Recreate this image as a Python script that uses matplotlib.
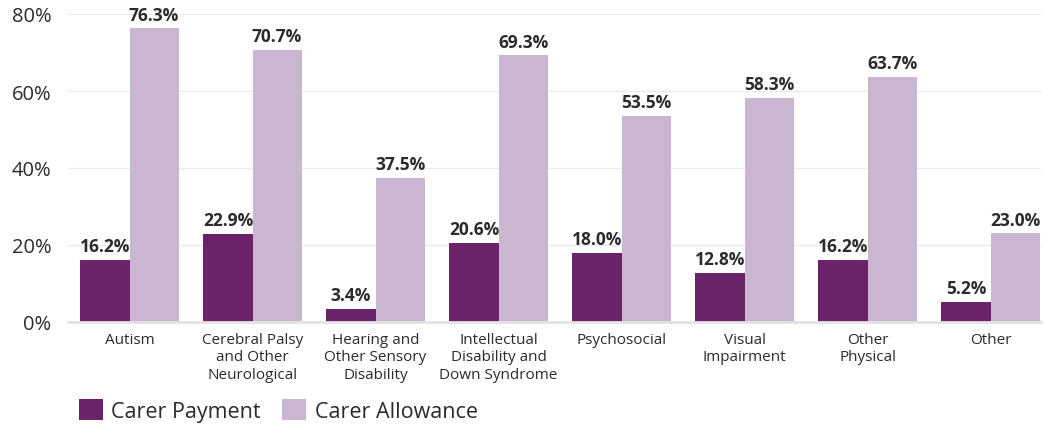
import matplotlib
matplotlib.use("Agg")
import matplotlib.pyplot as plt
import numpy as np

categories = [
    "Autism",
    "Cerebral Palsy\nand Other\nNeurological",
    "Hearing and\nOther Sensory\nDisability",
    "Intellectual\nDisability and\nDown Syndrome",
    "Psychosocial",
    "Visual\nImpairment",
    "Other\nPhysical",
    "Other",
]
carer_payment = [16.2, 22.9, 3.4, 20.6, 18.0, 12.8, 16.2, 5.2]
carer_allowance = [76.3, 70.7, 37.5, 69.3, 53.5, 58.3, 63.7, 23.0]
y_ticks = [0, 20, 40, 60, 80]

dark = "#6a2369"
light = "#cbb6d1"
text_col = "#2b2b2b"

plt.rcParams["font.family"] = ["Open Sans", "DejaVu Sans"]

fig = plt.figure(figsize=(10.46, 4.27), dpi=100)
ax = fig.add_axes([68 / 1046, 104 / 427, (1041 - 68) / 1046, (323 - 15) / 427])

x = np.arange(len(categories))
w = 0.4
b1 = ax.bar(x - w / 2, carer_payment, w, color=dark, label="Carer Payment", zorder=2)
b2 = ax.bar(x + w / 2, carer_allowance, w, color=light, label="Carer Allowance", zorder=2)

for bars, vals in ((b1, carer_payment), (b2, carer_allowance)):
    for r, v in zip(bars, vals):
        ax.text(r.get_x() + r.get_width() / 2, v + 1.2, f"{v:.1f}%",
                ha="center", va="bottom", fontsize=12.5, fontweight="bold",
                color=text_col, clip_on=False)

ax.set_xlim(-0.5, 7.41)
ax.set_ylim(0, 80)
ax.set_yticks(y_ticks)
ax.set_yticklabels([f"{t}%" for t in y_ticks], fontsize=14.5, color=text_col)
ax.set_xticks(x)
ax.set_xticklabels(categories, fontsize=11, color=text_col, linespacing=1.25)
ax.tick_params(axis="both", length=0)
ax.tick_params(axis="y", pad=12)
ax.tick_params(axis="x", pad=7)

for t in y_ticks[1:]:
    ax.axhline(t, color="#ebebeb", lw=1, zorder=0)
for s in ["top", "right", "left"]:
    ax.spines[s].set_visible(False)
ax.spines["bottom"].set_color("#e3e3e3")
ax.spines["bottom"].set_linewidth(2)

leg = fig.legend(handles=[b1, b2], loc="center left",
                 bbox_to_anchor=(79 / 1046, (427 - 411.5) / 427),
                 ncol=2, frameon=False, fontsize=15.5, handlelength=1.1, handleheight=1.1,
                 handletextpad=0.4, columnspacing=1.0, borderpad=0, borderaxespad=0,
                 labelcolor=text_col)

fig.savefig("out.png", dpi=100)
